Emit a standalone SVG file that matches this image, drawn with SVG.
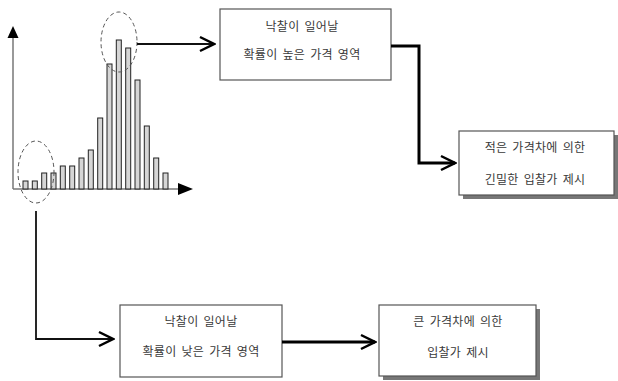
<svg xmlns="http://www.w3.org/2000/svg" width="618" height="381" viewBox="0 0 618 381">
<style>
.bar{fill:#d6d6d6;stroke:#222;stroke-width:1}
.axis{stroke:#777;stroke-width:1.5;fill:none}
.ell{fill:none;stroke:#555;stroke-width:1;stroke-dasharray:4,3}
.box{fill:#fff;stroke:#555;stroke-width:1.2}
.shadow{fill:#777}
.t{font-family:"Noto Sans CJK KR","Noto Sans",sans-serif;font-size:12px;fill:#3a3a3a;text-anchor:middle;letter-spacing:0.3px;word-spacing:2px}
.thin{stroke:#111;stroke-width:1.8;fill:none}
.thick{stroke:#000;stroke-width:3;fill:none}
</style>
<defs>
<marker id="chev" viewBox="0 0 18 18" refX="16" refY="9" markerWidth="18" markerHeight="18" markerUnits="userSpaceOnUse" orient="auto">
<path d="M2,2 L16,9 L2,16" fill="none" stroke="#000" stroke-width="2.5"/>
</marker>
</defs>
<g id="chart">
<line class="axis" x1="13" y1="189" x2="13" y2="36"/>
<polygon points="13,26 7.5,38 18.5,38" fill="#000"/>
<line class="axis" x1="13" y1="189" x2="179" y2="189"/>
<polygon points="193,189 178,183 178,195" fill="#000"/>
<rect class="bar" x="23" y="181" width="5" height="8"/>
<rect class="bar" x="32.3" y="181" width="5" height="8"/>
<rect class="bar" x="41.7" y="173" width="5" height="16"/>
<rect class="bar" x="51" y="173" width="5" height="16"/>
<rect class="bar" x="60.3" y="166" width="5" height="23"/>
<rect class="bar" x="69.7" y="166" width="5" height="23"/>
<rect class="bar" x="79" y="158" width="5" height="31"/>
<rect class="bar" x="88.3" y="150" width="5" height="39"/>
<rect class="bar" x="97.7" y="118" width="5" height="71"/>
<rect class="bar" x="107" y="64" width="5" height="125"/>
<rect class="bar" x="116.3" y="40" width="5" height="149"/>
<rect class="bar" x="125.7" y="48" width="5" height="141"/>
<rect class="bar" x="135" y="80" width="5" height="109"/>
<rect class="bar" x="144.3" y="126" width="5" height="63"/>
<rect class="bar" x="153.7" y="158" width="5" height="31"/>
<rect class="bar" x="163" y="173" width="5" height="16"/>
<ellipse class="ell" cx="119" cy="42" rx="18" ry="30"/>
<ellipse class="ell" cx="36" cy="172" rx="18" ry="31"/>
</g>
<g id="box1">
<rect class="box" x="220" y="9" width="171" height="71"/>
<text class="t" x="302" y="31">낙찰이 일어날</text>
<text class="t" x="302" y="59">확률이 높은 가격 영역</text>
</g>
<g id="box2">
<rect class="shadow" x="463" y="135" width="155" height="64"/>
<rect class="box" x="459" y="131" width="155" height="64"/>
<text class="t" x="535" y="152">적은 가격차에 의한</text>
<text class="t" x="535" y="184">긴밀한 입찰가 제시</text>
</g>
<g id="box3">
<rect class="box" x="120" y="305" width="162" height="72"/>
<text class="t" x="201" y="326">낙찰이 일어날</text>
<text class="t" x="201" y="356">확률이 낮은 가격 영역</text>
</g>
<g id="box4">
<rect class="shadow" x="383" y="309" width="157" height="71"/>
<rect class="box" x="379" y="305" width="157" height="71"/>
<text class="t" x="458" y="326">큰 가격차에 의한</text>
<text class="t" x="458" y="357">입찰가 제시</text>
</g>
<g id="connectors">
<path class="thin" d="M137,44 L214,44" marker-end="url(#chev)"/>
<path class="thick" d="M391,46 L419,46 L419,163 L455,163" marker-end="url(#chev)"/>
<path class="thin" d="M36,211 L36,339 L113,339" marker-end="url(#chev)"/>
<path class="thick" d="M282,342 L375,342" marker-end="url(#chev)"/>
</g>
</svg>
